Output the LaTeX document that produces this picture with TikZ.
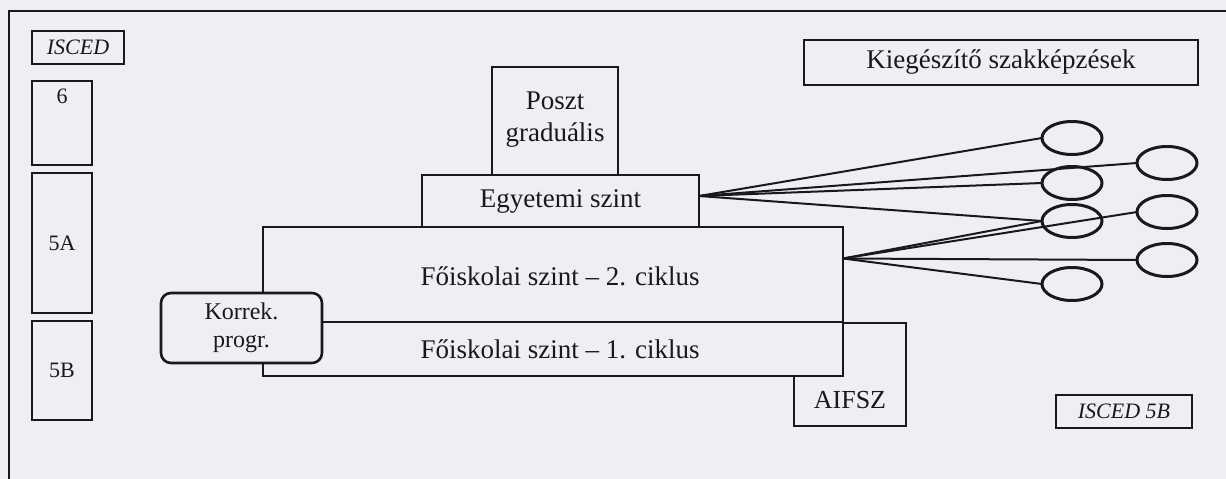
\documentclass[tikz,border=0pt]{standalone}
\usepackage{fontspec}
\setmainfont{Liberation Serif}
\usetikzlibrary{shapes.geometric}
\definecolor{bgc}{RGB}{237,239,244}
\definecolor{ink}{RGB}{25,25,28}
\tikzset{
  box/.style={draw=ink, line width=2.6pt, fill=bgc, inner sep=0pt, outer sep=0pt, rectangle},
  sbox/.style={draw=ink, line width=2pt, fill=bgc, inner sep=0pt, outer sep=0pt, rectangle},
  big/.style={font=\fontsize{27}{32}\selectfont, text=ink, inner sep=0pt, align=center},
  small/.style={font=\fontsize{22}{26}\selectfont, text=ink, inner sep=0pt},
  oval/.style={draw=ink, line width=3pt, ellipse, inner sep=0pt, outer sep=0pt, minimum width=60pt, minimum height=33pt},
  conn/.style={draw=ink, line width=2pt}
}
\begin{document}
\begin{tikzpicture}[x=1pt,y=-1pt]
\useasboundingbox (0,0) rectangle (1226,479);
\fill[bgc] (0,0) rectangle (1226,479);
\clip (0,0) rectangle (1226,479);
\draw[ink, line width=2.4pt] (9,11) rectangle (1250,500);

% left ISCED column
\node[sbox, minimum width=92pt, minimum height=33pt] (isced) at (78,47.5) {};
\node[small, font=\fontsize{22}{26}\selectfont\itshape] (iscedt) at (78,47.5) {ISCED};
\node[sbox, minimum width=60pt, minimum height=84pt] (l6) at (62,123) {};
\node[small] (l6t) at (62,96) {6};
\node[sbox, minimum width=60pt, minimum height=140pt] (l5a) at (62,243) {};
\node[small] (l5at) at (62,243) {5A};
\node[sbox, minimum width=60pt, minimum height=99pt] (l5b) at (62,370.5) {};
\node[small] (l5bt) at (62,370.5) {5B};

% stacked levels
\node[box, minimum width=112pt, minimum height=103pt] (aifsz) at (850,374.5) {};
\node[big, font=\fontsize{26}{30}\selectfont] (aifszt) at (850,400) {AIFSZ};
\node[box, minimum width=580pt, minimum height=54pt] (c1) at (553,349) {};
\node[big] (c1t) at (560,349) {Főiskolai szint – 1. ciklus};
\node[box, minimum width=580pt, minimum height=95pt] (c2) at (553,274.5) {};
\node[big] (c2t) at (560,276) {Főiskolai szint – 2. ciklus};
\node[box, rounded corners=10pt, minimum width=161pt, minimum height=70pt] (korr) at (241.5,328) {};
\node[big, font=\fontsize{24}{28}\selectfont] (korrt) at (241.5,328) {Korrek.\\progr.};
\node[box, minimum width=277pt, minimum height=52pt] (egy) at (560.5,201) {};
\node[big] (egyt) at (560.5,201) {Egyetemi szint};
\node[box, minimum width=126pt, minimum height=108pt] (poszt) at (555,121) {};
\node[big] (posztt) at (555,120) {Poszt\\graduális};

% right side
\node[box, line width=2.2pt, minimum width=394pt, minimum height=45pt] (kieg) at (1001,62.5) {};
\node[big] (kiegt) at (1001,62.5) {Kiegészítő szakképzések};
\node[sbox, minimum width=136pt, minimum height=33pt] (i5b) at (1124,411.5) {};
\node[small, font=\fontsize{22}{26}\selectfont\itshape] (i5bt) at (1124,411.5) {ISCED 5B};

% ovals
\node[oval] (e1) at (1072,138) {};
\node[oval] (e2) at (1072,183) {};
\node[oval] (e3) at (1072,221) {};
\node[oval] (e4) at (1072,284) {};
\node[oval] (f1) at (1167,163) {};
\node[oval] (f2) at (1167,212) {};
\node[oval] (f3) at (1167,260) {};

% connectors
\draw[conn] ([yshift=5pt]egy.east) -- (e1.west);
\draw[conn] ([yshift=5pt]egy.east) -- (f1.west);
\draw[conn] ([yshift=5pt]egy.east) -- (e2.west);
\draw[conn] ([yshift=5pt]egy.east) -- (e3.west);
\draw[conn] ([yshift=16pt]c2.east) -- (e3.west);
\draw[conn] ([yshift=16pt]c2.east) -- (f2.west);
\draw[conn] ([yshift=16pt]c2.east) -- (f3.west);
\draw[conn] ([yshift=16pt]c2.east) -- (e4.west);
\end{tikzpicture}
\end{document}
